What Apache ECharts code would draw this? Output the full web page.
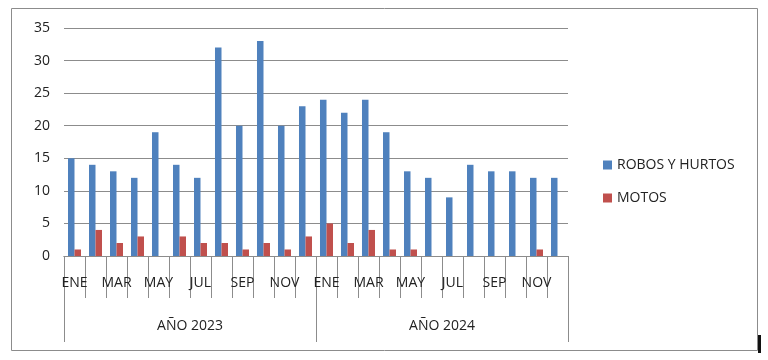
<!DOCTYPE html>
<html><head><meta charset="utf-8">
<script src="https://cdn.jsdelivr.net/npm/echarts@6/dist/echarts.min.js"></script>
<style>html,body{margin:0;padding:0;background:#fff}#c{width:768px;height:360px}</style>
</head><body><div id="c"></div>
<script>
const months = ['ENE','FEB','MAR','ABR','MAY','JUN','JUL','AGO','SEP','OCT','NOV','DIC','ENE','FEB','MAR','ABR','MAY','JUN','JUL','AGO','SEP','OCT','NOV','DIC'];
const years = ['AÑO 2023','AÑO 2024'];
const robos = [15,14,13,12,19,14,12,32,20,33,20,23,24,22,24,19,13,12,9,14,13,13,12,12];
const motos = [1,4,2,3,0,3,2,2,1,2,1,3,5,2,4,1,1,0,0,0,0,0,1,0];
const yTicks = {min:0, max:35, interval:5};
const font = '"Open Sans", "Liberation Sans", sans-serif';
const chart = echarts.init(document.getElementById('c'), null, {renderer:'canvas'});
chart.setOption({
  animation:false,
  textStyle:{fontFamily:font},
  graphic:[
    {type:'rect', shape:{x:11.5,y:8.5,width:746,height:342}, style:{fill:'none',stroke:'#8c8c8c',lineWidth:1}, silent:true, z:-1},
    {type:'rect', shape:{x:758,y:335,width:3,height:18}, style:{fill:'#111'}, silent:true}
  ],
  grid:{left:64, right:200, top:28, bottom:104, containLabel:false},
  legend:{
    orient:'vertical', left:598, top:153, itemWidth:9, itemHeight:9, itemGap:19,
    icon:'rect',
    textStyle:{fontSize:14, color:'#222', fontFamily:font},
    data:['ROBOS Y HURTOS','MOTOS']
  },
  xAxis:[
    {type:'category', data:months, position:'bottom',
     axisLine:{show:true, lineStyle:{color:'#8c8c8c'}},
     axisTick:{show:true, interval:0, alignWithLabel:false, length:42, lineStyle:{color:'#8c8c8c'}},
     axisLabel:{interval:1, margin:20, fontSize:14, color:'#222', fontFamily:font}
    },
    {type:'category', data:years, position:'bottom',
     axisLine:{show:true, lineStyle:{color:'#8c8c8c'}},
     axisTick:{show:true, interval:0, alignWithLabel:false, length:86, lineStyle:{color:'#8c8c8c'}},
     axisLabel:{margin:63, fontSize:14, color:'#222', fontFamily:font}
    }
  ],
  yAxis:{type:'value', min:yTicks.min, max:yTicks.max, interval:yTicks.interval,
    axisLine:{show:false}, axisTick:{show:false},
    axisLabel:{fontSize:14, color:'#222', margin:14, fontFamily:font},
    splitLine:{lineStyle:{color:'#8c8c8c'}}
  },
  series:[
    {name:'ROBOS Y HURTOS', type:'bar', data:robos, xAxisIndex:0, itemStyle:{color:'#4F81BD'}, barGap:'0%', barCategoryGap:'38%'},
    {name:'MOTOS', type:'bar', data:motos, xAxisIndex:0, itemStyle:{color:'#C0504D'}, barGap:'0%', barCategoryGap:'38%'}
  ]
});
</script></body></html>
